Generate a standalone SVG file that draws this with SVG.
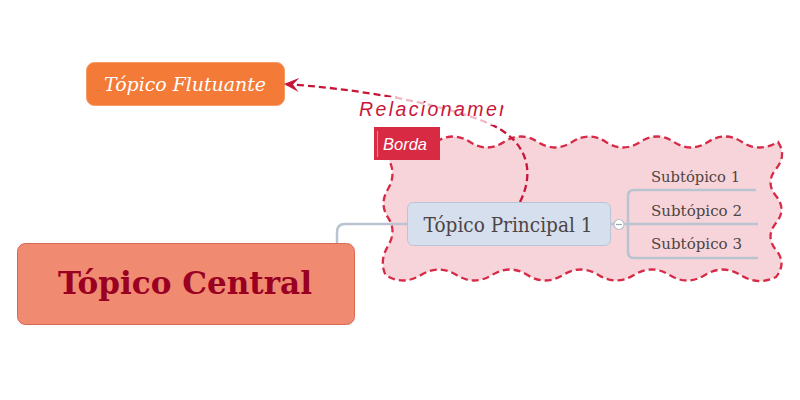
<svg xmlns="http://www.w3.org/2000/svg" width="800" height="400" viewBox="0 0 800 400">
<style>
.conn{fill:none;stroke:#BAC3D0;stroke-width:2.5}
.serif{font-family:"DejaVu Serif","Liberation Serif",serif}
.sub{font-size:14.5px;fill:#4D4444}
</style>
<defs>
<marker id="arr" viewBox="0 0 16 14" refX="15" refY="7" markerWidth="16" markerHeight="14" markerUnits="userSpaceOnUse" orient="auto">
<path d="M15,7 L0,0 L6,7 L0,14 Z" fill="#C8163A"/>
</marker>
<clipPath id="relclip"><rect x="340" y="90" width="163.5" height="40"/></clipPath>
</defs>
<rect width="800" height="400" fill="#FFFFFF"/>

<g id="borda">
<path d="M436,142 Q453,131 470,142 T504,142 T538,142 T572,142 T606,142 T640,142 T674,142 T708,142 T742,142 T778,142 Q787,155.5 776,169 T776,196 T776,223 T776,250 T776,277 Q758,286 740.5,275 T705,275 T669.5,275 T634,275 T598.5,275 T563,275 T527.5,275 T492,275 T456.5,275 T421,275 T385.5,275 Q379,261 388,246 T388,217.5 T388,189 T388,158 L400,145 Z" fill="#F7D4DA" stroke="#D62A46" stroke-width="2.3" stroke-dasharray="7,4"/>
<rect x="374" y="127" width="66" height="33" fill="#D82A43"/>
<line x1="377.5" y1="131" x2="377.5" y2="157" stroke="#EC8A98" stroke-width="1"/>
<text x="383" y="150" font-family="Liberation Sans,Arial,sans-serif" font-style="italic" font-size="16.5" fill="#FFFFFF">Borda</text>
</g>

<g id="connectors">
<path class="conn" d="M337,243 L337,232 Q337,224 345,224 L407,224"/>
<path class="conn" d="M610,224 L758,224 M756,190 L634,190 Q628,190 628,196 L628,252 Q628,258 634,258 L758,258"/>
</g>

<g id="floating">
<rect x="86.5" y="62.5" width="198" height="43" rx="8" fill="#F47A38" stroke="#F59A62" stroke-width="1"/>
<text class="serif" x="185" y="91" text-anchor="middle" font-style="italic" font-size="19" fill="#FFFFFF" textLength="162" lengthAdjust="spacingAndGlyphs">Tópico Flutuante</text>
</g>

<g id="relationship">
<path d="M520,202 C536,170 526,140 490,124 C440,102 350,88 284,84" fill="none" stroke="#C8163A" stroke-width="2.3" stroke-dasharray="7,4" marker-end="url(#arr)"/>
<rect x="355" y="97" width="152" height="28" fill="#FFFFFF" fill-opacity="0.7"/>
<text x="359" y="116" clip-path="url(#relclip)" font-family="Liberation Sans,Arial,sans-serif" font-style="italic" font-size="19.5" letter-spacing="2.4" fill="#C8163A">Relacionamen</text>
</g>

<g id="central">
<rect x="17.5" y="243.5" width="337" height="81" rx="8" fill="#F08A70" stroke="#D8684F" stroke-width="1"/>
<text class="serif" x="185" y="294" text-anchor="middle" font-weight="bold" font-size="31" fill="#990022" textLength="254" lengthAdjust="spacingAndGlyphs">Tópico Central</text>
</g>

<g id="principal">
<rect x="407.5" y="202.5" width="203" height="43" rx="6" fill="#D5DFEE" stroke="#B9C5D6" stroke-width="1"/>
<text class="serif" x="508" y="232" text-anchor="middle" font-size="19.5" fill="#4D4444" textLength="169" lengthAdjust="spacingAndGlyphs">Tópico Principal 1</text>
<circle cx="619" cy="224.5" r="5" fill="#FFFFFF" stroke="#B9C3D0" stroke-width="1.2"/>
<line x1="616" y1="224.5" x2="622" y2="224.5" stroke="#9AA4B2" stroke-width="1.2"/>
</g>

<g id="sub1"><text class="serif sub" x="651" y="182" textLength="89" lengthAdjust="spacingAndGlyphs">Subtópico 1</text></g>
<g id="sub2"><text class="serif sub" x="651" y="216" textLength="91" lengthAdjust="spacingAndGlyphs">Subtópico 2</text></g>
<g id="sub3"><text class="serif sub" x="651" y="249" textLength="91" lengthAdjust="spacingAndGlyphs">Subtópico 3</text></g>
</svg>
